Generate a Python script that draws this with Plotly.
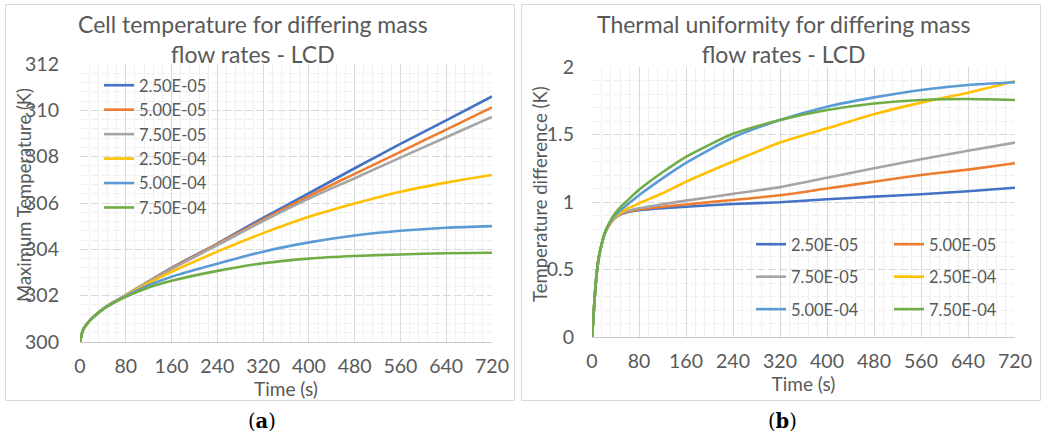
import plotly.graph_objects as go

W, H = 1042, 432

# ---------------- data ----------------
series_names = ["2.50E-05", "5.00E-05", "7.50E-05", "2.50E-04", "5.00E-04", "7.50E-04"]
colors = ["#4472C4", "#ED7D31", "#A5A5A5", "#FFC000", "#5B9BD5", "#70AD47"]

# (a) Maximum temperature (K)
time_a = [0, 5, 10, 20, 40, 60, 80, 120, 160, 240, 320, 400, 480, 560, 640, 720]
temp_a_1 = [300, 300.5, 300.71, 301.0, 301.42, 301.74, 302.02, 302.62, 303.2, 304.25, 305.36, 306.42, 307.5, 308.55, 309.57, 310.6]
temp_a_2 = [300, 300.5, 300.71, 301.0, 301.42, 301.74, 302.02, 302.61, 303.18, 304.22, 305.28, 306.3, 307.26, 308.21, 309.17, 310.13]
temp_a_3 = [300, 300.5, 300.71, 301.0, 301.42, 301.74, 302.01, 302.6, 303.15, 304.18, 305.22, 306.19, 307.07, 307.96, 308.84, 309.72]
temp_a_4 = [300, 300.5, 300.71, 301.0, 301.42, 301.73, 302.0, 302.55, 303.03, 303.9, 304.7, 305.41, 305.98, 306.49, 306.88, 307.21]
temp_a_5 = [300, 300.5, 300.71, 301.0, 301.42, 301.72, 301.98, 302.45, 302.82, 303.38, 303.9, 304.3, 304.6, 304.8, 304.93, 305.0]
temp_a_6 = [300, 300.5, 300.71, 301.0, 301.41, 301.7, 301.95, 302.35, 302.64, 303.07, 303.4, 303.6, 303.71, 303.78, 303.83, 303.85]
temps_a = [temp_a_1, temp_a_2, temp_a_3, temp_a_4, temp_a_5, temp_a_6]

# (b) Temperature difference (K)
time_b = [0, 2, 5, 8, 12, 16, 22, 30, 40, 50, 60, 80, 120, 160, 240, 320, 400, 480, 560, 640, 720]
diff_b_1 = [0, 0.12, 0.32, 0.47, 0.6, 0.68, 0.77, 0.835, 0.885, 0.91, 0.925, 0.94, 0.955, 0.965, 0.985, 0.998, 1.02, 1.04, 1.057, 1.08, 1.105]
diff_b_2 = [0, 0.12, 0.32, 0.47, 0.6, 0.68, 0.77, 0.835, 0.887, 0.913, 0.928, 0.945, 0.965, 0.982, 1.015, 1.05, 1.10, 1.15, 1.2, 1.24, 1.287]
diff_b_3 = [0, 0.12, 0.32, 0.47, 0.6, 0.68, 0.77, 0.835, 0.889, 0.916, 0.932, 0.953, 0.983, 1.01, 1.06, 1.11, 1.18, 1.25, 1.316, 1.38, 1.44]
diff_b_4 = [0, 0.12, 0.32, 0.47, 0.6, 0.68, 0.77, 0.84, 0.895, 0.925, 0.95, 0.99, 1.065, 1.15, 1.3, 1.44, 1.546, 1.65, 1.736, 1.81, 1.895]
diff_b_5 = [0, 0.12, 0.32, 0.47, 0.6, 0.68, 0.772, 0.845, 0.905, 0.945, 0.98, 1.05, 1.175, 1.29, 1.478, 1.607, 1.706, 1.775, 1.83, 1.867, 1.887]
diff_b_6 = [0, 0.12, 0.32, 0.47, 0.6, 0.68, 0.775, 0.85, 0.92, 0.97, 1.01, 1.09, 1.22, 1.335, 1.505, 1.607, 1.681, 1.73, 1.756, 1.763, 1.756]
diffs_b = [diff_b_1, diff_b_2, diff_b_3, diff_b_4, diff_b_5, diff_b_6]

x_ticks = [0, 80, 160, 240, 320, 400, 480, 560, 640, 720]
title_a = "Cell temperature for differing mass<br>flow rates - LCD"
title_b = "Thermal uniformity for differing mass<br>flow rates - LCD"
ytitle_a = "Maximum Temperature (K)"
ytitle_b = "Temperature difference (K)"

# ---------------- figure ----------------
FONT = "Lato"
GREY_TXT = "#595959"
fig = go.Figure()

for name, col, ys in zip(series_names, colors, temps_a):
    fig.add_trace(go.Scatter(
        x=time_a, y=ys, name=name, mode="lines",
        line=dict(color=col, width=2.6, shape="spline", smoothing=0.8),
        xaxis="x", yaxis="y", legend="legend", legendgroup="a" + name))

for i, (name, col, ys) in enumerate(zip(series_names, colors, diffs_b)):
    fig.add_trace(go.Scatter(
        x=time_b, y=ys, name=name, mode="lines",
        line=dict(color=col, width=2.6, shape="spline", smoothing=0.6),
        xaxis="x2", yaxis="y2", legend="legend2" if i % 2 == 0 else "legend3",
        legendgroup="b" + name))


def px_x(p):
    return p / W


def px_y(p):
    return 1 - p / H


TICK_SIZE = 19.5
common_x = dict(
    tickvals=x_ticks, showgrid=True, gridcolor="#D9D9D9", gridwidth=1,
    minor=dict(dtick=16, showgrid=True, gridcolor="#F0F0F0", gridwidth=1),
    zeroline=False, showline=True, linecolor="#C8C8C8", linewidth=1,
    ticks="", tickfont=dict(family=FONT, size=TICK_SIZE, color=GREY_TXT),
    ticklabelstandoff=7, range=[0, 720], automargin=False,
    title=dict(text="Time (s)", font=dict(family=FONT, size=19, color=GREY_TXT), standoff=0),
)
common_y = dict(
    showgrid=True, gridcolor="#D9D9D9", gridwidth=1, griddash="8px,3px",
    zeroline=False, showline=False, ticks="", automargin=False,
    tickfont=dict(family=FONT, size=TICK_SIZE, color=GREY_TXT),
)
LEG_FONT = dict(family=FONT, size=16.5, color=GREY_TXT)

fig.update_layout(
    width=W, height=H, margin=dict(l=0, r=0, t=0, b=0, autoexpand=False),
    paper_bgcolor="white", plot_bgcolor="white",
    font=dict(family=FONT, color=GREY_TXT),
    xaxis=dict(domain=[px_x(80), px_x(492)], anchor="y", **common_x),
    yaxis=dict(domain=[px_y(342), px_y(64)], anchor="x", range=[300, 312], dtick=2,
               ticklabelstandoff=20,
               minor=dict(dtick=0.4, showgrid=True, gridcolor="#F0F0F0"), **common_y),
    xaxis2=dict(domain=[px_x(592), px_x(1015)], anchor="y2", **common_x),
    yaxis2=dict(domain=[px_y(337), px_y(67)], anchor="x2", range=[0, 2], dtick=0.5,
                ticklabelstandoff=17,
                minor=dict(dtick=0.1, showgrid=True, gridcolor="#F0F0F0"), **common_y),
    legend=dict(x=px_x(99), y=px_y(68), xanchor="left", yanchor="top",
                bgcolor="rgba(255,255,255,0)", tracegroupgap=0, font=LEG_FONT),
    legend2=dict(x=px_x(751), y=px_y(227), xanchor="left", yanchor="top",
                 bgcolor="rgba(255,255,255,0)", tracegroupgap=8, font=LEG_FONT),
    legend3=dict(x=px_x(889), y=px_y(227), xanchor="left", yanchor="top",
                 bgcolor="rgba(255,255,255,0)", tracegroupgap=8, font=LEG_FONT),
    shapes=[
        dict(type="rect", xref="paper", yref="paper", x0=px_x(5.5), x1=px_x(514.5),
             y0=px_y(400.5), y1=px_y(4.5), line=dict(color="#D9D9D9", width=1)),
        dict(type="rect", xref="paper", yref="paper", x0=px_x(521.5), x1=px_x(1040.5),
             y0=px_y(400.5), y1=px_y(4.5), line=dict(color="#D9D9D9", width=1)),
    ],
    annotations=[
        dict(text=title_a, x=px_x(253), y=px_y(39), xref="paper", yref="paper",
             showarrow=False, xanchor="center", yanchor="middle",
             font=dict(family=FONT, size=23, color=GREY_TXT)),
        dict(text=title_b, x=px_x(783), y=px_y(39), xref="paper", yref="paper",
             showarrow=False, xanchor="center", yanchor="middle",
             font=dict(family=FONT, size=23, color=GREY_TXT)),
        dict(text=ytitle_a, x=px_x(24), y=px_y(195), xref="paper", yref="paper",
             showarrow=False, textangle=-90, xanchor="center", yanchor="middle",
             font=dict(family=FONT, size=18.5, color=GREY_TXT)),
        dict(text=ytitle_b, x=px_x(540), y=px_y(194), xref="paper", yref="paper",
             showarrow=False, textangle=-90, xanchor="center", yanchor="middle",
             font=dict(family=FONT, size=18.5, color=GREY_TXT)),
        dict(text="(<b>a</b>)", x=px_x(262), y=px_y(421), xref="paper", yref="paper",
             showarrow=False, xanchor="center", yanchor="middle",
             font=dict(family="DejaVu Serif", size=19.5, color="black")),
        dict(text="(<b>b</b>)", x=px_x(782), y=px_y(421), xref="paper", yref="paper",
             showarrow=False, xanchor="center", yanchor="middle",
             font=dict(family="DejaVu Serif", size=19.5, color="black")),
    ],
)

fig.write_html("out.html", config={"displayModeBar": False},
               post_script="document.body.style.margin='0px';")
